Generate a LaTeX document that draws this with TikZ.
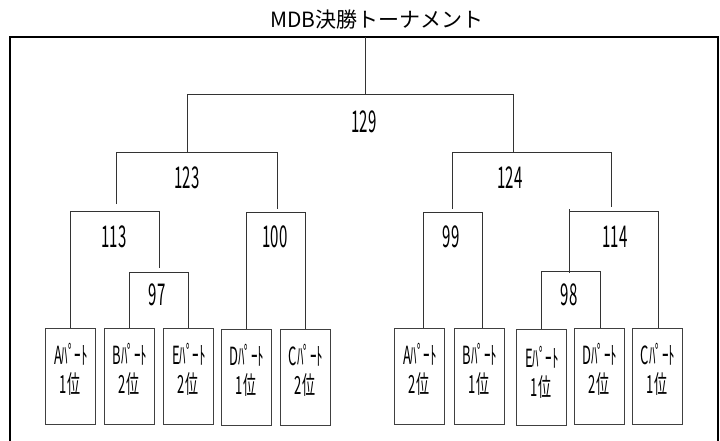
\documentclass[tikz,border=0pt]{standalone}
\usepackage{fontspec}
\newfontfamily\jfont{Noto Sans CJK JP}
\newfontfamily\nfont[FakeStretch=0.5]{Noto Sans CJK JP}
\newfontfamily\bfontj[FakeStretch=0.52]{Noto Sans CJK JP}
\begin{document}
\begin{tikzpicture}[x=1pt,y=-1pt,
  frame/.style={draw=black,line width=1.4pt},
  ln/.style={draw=black!80,line width=0.9pt},
  box/.style={draw=black!75,line width=0.9pt,minimum width=50pt,minimum height=96pt,inner sep=0pt},
  score/.style={inner sep=0pt,anchor=base,font=\nfont\fontsize{30}{30}\selectfont},
  btxt/.style={inner sep=0pt,anchor=base,font=\bfontj\fontsize{25}{25}\selectfont},
  ttl/.style={inner sep=0pt,anchor=base,font=\jfont\fontsize{21}{21}\selectfont}]
\useasboundingbox (0,0) rectangle (720,441);
% title and frame
\node[ttl] (title) at (377,28) {MDB決勝トーナメント};
\coordinate (fbl) at (10,441); \coordinate (ftl) at (10,37);
\coordinate (ftr) at (718,37); \coordinate (fbr) at (718,441);
\draw[frame] (fbl) -- (ftl) -- (ftr) -- (fbr);
% boxes left
\node[box] (lA) at (70,376) {};
\node[box] (lB) at (129,376) {};
\node[box] (lE) at (188,376) {};
\node[box] (lD) at (246,377) {};
\node[box] (lC) at (305,377) {};
% boxes right
\node[box] (rA) at (419,376) {};
\node[box] (rB) at (479,376) {};
\node[box] (rE) at (541,377) {};
\node[box] (rD) at (599,376) {};
\node[box] (rC) at (657,376) {};
% box texts
\node[btxt] (lA1) at (71,364) {Aﾊﾟｰﾄ};  \node[btxt] (lA2) at (70,393) {1位};
\node[btxt] (lB1) at (130,364) {Bﾊﾟｰﾄ}; \node[btxt] (lB2) at (129,393) {2位};
\node[btxt] (lE1) at (189,364) {Eﾊﾟｰﾄ}; \node[btxt] (lE2) at (188,393) {2位};
\node[btxt] (lD1) at (247,365) {Dﾊﾟｰﾄ}; \node[btxt] (lD2) at (246,394) {1位};
\node[btxt] (lC1) at (306,365) {Cﾊﾟｰﾄ}; \node[btxt] (lC2) at (305,394) {2位};
\node[btxt] (rA1) at (420,364) {Aﾊﾟｰﾄ}; \node[btxt] (rA2) at (419,393) {2位};
\node[btxt] (rB1) at (480,364) {Bﾊﾟｰﾄ}; \node[btxt] (rB2) at (479,393) {1位};
\node[btxt] (rE1) at (542,367) {Eﾊﾟｰﾄ}; \node[btxt] (rE2) at (541,396) {1位};
\node[btxt] (rD1) at (600,364) {Dﾊﾟｰﾄ}; \node[btxt] (rD2) at (599,393) {2位};
\node[btxt] (rC1) at (658,364) {Cﾊﾟｰﾄ}; \node[btxt] (rC2) at (657,393) {1位};
% final
\coordinate (top) at (365,37); \coordinate (fm) at (365,94);
\coordinate (fl) at (187,94); \coordinate (fr) at (513,94);
\coordinate (sLm) at (187,152); \coordinate (sRm) at (513,152);
\draw[ln] (top) -- (fm);
\draw[ln] (sLm) -- (fl) -- (fr) -- (sRm);
\node[score] (s129) at (364,132) {129};
% left semifinal 123
\coordinate (sLl) at (116,152); \coordinate (sLr) at (277,152);
\coordinate (sLa) at (116,204); \coordinate (sLb) at (277,209);
\draw[ln] (sLa) -- (sLl) -- (sLr) -- (sLb);
\node[score] (s123) at (187,188) {123};
% 113
\coordinate (q1l) at (70,211); \coordinate (q1r) at (159,211); \coordinate (q1b) at (159,268);
\draw[ln] (lA.north) -- (q1l) -- (q1r) -- (q1b);
\node[score] (s113) at (114,247) {113};
% 97
\coordinate (e1l) at (129,272); \coordinate (e1r) at (188,272);
\draw[ln] (lB.north) -- (e1l) -- (e1r) -- (lE.north);
\node[score] (s97) at (157,305) {97};
% 100
\coordinate (q2l) at (246,212); \coordinate (q2r) at (305,212);
\draw[ln] (lD.north) -- (q2l) -- (q2r) -- (lC.north);
\node[score] (s100) at (275,247) {100};
% right semifinal 124
\coordinate (sRl) at (452,152); \coordinate (sRr) at (611,152);
\coordinate (sRa) at (452,209); \coordinate (sRb) at (611,207);
\draw[ln] (sRa) -- (sRl) -- (sRr) -- (sRb);
\node[score] (s124) at (510,188) {124};
% 99
\coordinate (q3l) at (423,212); \coordinate (q3r) at (482,212);
\draw[ln] (q3l |- rA.north) -- (q3l) -- (q3r) -- (q3r |- rB.north);
\node[score] (s99) at (451,247) {99};
% 114
\coordinate (q4t) at (569,209); \coordinate (q4l) at (569,211); \coordinate (q4r) at (658,211);
\coordinate (q4b) at (569,273);
\draw[ln] (q4t) -- (q4b);
\draw[ln] (q4l) -- (q4r) -- (q4r |- rC.north);
\node[score] (s114) at (615,247) {114};
% 98
\coordinate (e2l) at (541,271); \coordinate (e2r) at (600,271);
\draw[ln] (rE.north) -- (e2l) -- (e2r) -- (e2r |- rD.north);
\node[score] (s98) at (569,305) {98};
\end{tikzpicture}
\end{document}
